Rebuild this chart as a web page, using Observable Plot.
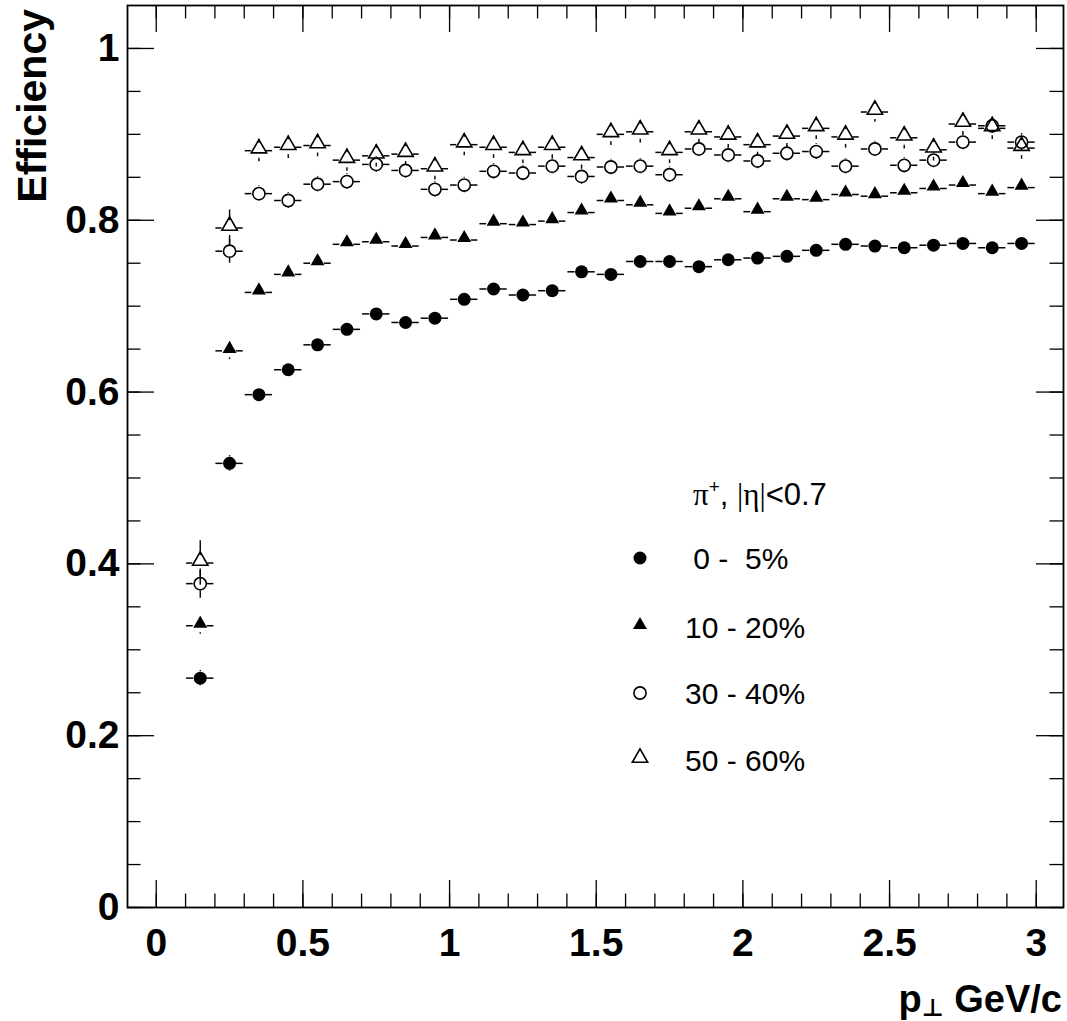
<!DOCTYPE html>
<html>
<head>
<meta charset="utf-8">
<script src="https://cdn.jsdelivr.net/npm/d3@7"></script>
<script src="https://cdn.jsdelivr.net/npm/@observablehq/plot@0.6"></script>
<style>
  html, body { margin: 0; padding: 0; background: white; }
  svg { display: block; }
</style>
</head>
<body>
<div id="chart"></div>
<script>
// ---- data ----
const pt = [0.15, 0.25, 0.35, 0.45, 0.55, 0.65, 0.75, 0.85, 0.95, 1.05,
            1.15, 1.25, 1.35, 1.45, 1.55, 1.65, 1.75, 1.85, 1.95, 2.05,
            2.15, 2.25, 2.35, 2.45, 2.55, 2.65, 2.75, 2.85, 2.95];
const binHalfWidth = 0.05;

const eff_0_5 = [0.267, 0.517, 0.597, 0.626, 0.655, 0.673, 0.691, 0.681, 0.686, 0.708,
                 0.720, 0.713, 0.718, 0.740, 0.737, 0.752, 0.752, 0.746, 0.754, 0.756,
                 0.758, 0.765, 0.772, 0.770, 0.768, 0.771, 0.773, 0.768, 0.773];
const err_0_5 = [0.009, 0.009, 0.006, 0.006, 0.005, 0.005, 0.005, 0.005, 0.005, 0.005,
                 0.005, 0.005, 0.005, 0.005, 0.005, 0.005, 0.005, 0.005, 0.005, 0.005,
                 0.005, 0.005, 0.005, 0.005, 0.005, 0.005, 0.005, 0.005, 0.005];

const eff_10_20 = [0.328, 0.648, 0.716, 0.737, 0.750, 0.772, 0.775, 0.770, 0.780, 0.777,
                   0.796, 0.795, 0.799, 0.809, 0.823, 0.818, 0.808, 0.814, 0.825, 0.810,
                   0.825, 0.824, 0.830, 0.828, 0.832, 0.837, 0.841, 0.831, 0.838];
const err_10_20 = [0.010, 0.010, 0.006, 0.006, 0.006, 0.006, 0.006, 0.006, 0.006, 0.006,
                   0.006, 0.006, 0.006, 0.006, 0.006, 0.006, 0.006, 0.006, 0.006, 0.006,
                   0.006, 0.006, 0.006, 0.006, 0.006, 0.006, 0.006, 0.006, 0.006];

const eff_30_40 = [0.377, 0.764, 0.831, 0.823, 0.842, 0.845, 0.865, 0.858, 0.836, 0.841,
                   0.857, 0.855, 0.863, 0.851, 0.862, 0.863, 0.853, 0.883, 0.876, 0.869,
                   0.878, 0.880, 0.863, 0.883, 0.864, 0.870, 0.891, 0.910, 0.891];
const err_30_40 = [0.017, 0.014, 0.009, 0.009, 0.009, 0.009, 0.009, 0.009, 0.009, 0.009,
                   0.009, 0.009, 0.009, 0.009, 0.009, 0.009, 0.009, 0.009, 0.009, 0.009,
                   0.009, 0.009, 0.009, 0.009, 0.009, 0.009, 0.009, 0.009, 0.010];

const eff_50_60 = [0.401, 0.791, 0.881, 0.885, 0.887, 0.870, 0.875, 0.877, 0.860, 0.888,
                   0.885, 0.879, 0.885, 0.873, 0.900, 0.903, 0.879, 0.903, 0.897, 0.888,
                   0.898, 0.907, 0.897, 0.926, 0.896, 0.882, 0.912, 0.907, 0.884];
const err_50_60 = [0.026, 0.021, 0.013, 0.013, 0.013, 0.013, 0.013, 0.013, 0.013, 0.013,
                   0.013, 0.013, 0.013, 0.013, 0.013, 0.013, 0.013, 0.013, 0.013, 0.013,
                   0.013, 0.013, 0.013, 0.012, 0.013, 0.013, 0.013, 0.013, 0.013];

const seriesNames = [" 0 -  5%", "10 - 20%", "30 - 40%", "50 - 60%"];
const legendHeader = ["\u03C0", "+", ", ", "|\u03B7|", "<0.7"];
const xMajorTicks = [0, 0.5, 1, 1.5, 2, 2.5, 3];
const xTickLabels = ["0", "0.5", "1", "1.5", "2", "2.5", "3"];
const yMajorTicks = [0, 0.2, 0.4, 0.6, 0.8, 1];
const yTickLabels = ["0", "0.2", "0.4", "0.6", "0.8", "1"];
const xMinorTicks = d3.range(0, 31).map(i => i / 10);
const yMinorTicks = d3.range(0, 21).map(i => i / 20);

// ---- layout ----
const W = 1067, H = 1021;
const mL = 127, mR = 4, mT = 5, mB = 114;
const xDom = [-0.098, 3.093], yDom = [0, 1.05];
const pxX = (W - mL - mR) / (xDom[1] - xDom[0]);
const pxY = (H - mT - mB) / (yDom[1] - yDom[0]);

const styles = [
  {symbol: "circle",   fill: "black", stroke: "none",  r: 6.5, sw: 0,   gap: 6.5, dy: 0},
  {symbol: "triangle", fill: "black", stroke: "none",  r: 5.2, sw: 0,   gap: 7, dy: -2.0},
  {symbol: "circle",   fill: "none",  stroke: "black", r: 6.1, sw: 1.6, gap: 7, dy: 0},
  {symbol: "triangle", fill: "none",  stroke: "black", r: 5.7, sw: 1.6, gap: 7.5, dy: -2.2}
];
const effs = [eff_0_5, eff_10_20, eff_30_40, eff_50_60];
const errs = [err_0_5, err_10_20, err_30_40, err_50_60];

const rows = [];
effs.forEach((vals, s) => pt.forEach((x, i) => rows.push({s, x, v: vals[i], e: errs[s][i]})));

const endGap = 1 / pxX;
const hLeft = rows.map(d => ({y: d.v, x1: d.x - binHalfWidth + endGap, x2: d.x - styles[d.s].gap / pxX}));
const hRight = rows.map(d => ({y: d.v, x1: d.x + styles[d.s].gap / pxX, x2: d.x + binHalfWidth - endGap}));
const vBars = [];
rows.forEach(d => {
  const g = styles[d.s].gap / pxY;
  if (d.e > g) {
    vBars.push({x: d.x, y1: d.v + g, y2: d.v + d.e});
    vBars.push({x: d.x, y1: d.v - g, y2: d.v - d.e});
  }
});

const majX = 27 / pxY, minX = 13.5 / pxY;
const majY = 27 / pxX, minY = 13.5 / pxX;

const dotMarks = styles.map((st, s) =>
  Plot.dot(rows.filter(d => d.s === s), {
    x: "x", y: "v", symbol: () => st.symbol, r: st.r,
    fill: st.fill, stroke: st.stroke, strokeWidth: st.sw, dy: st.dy
  })
);

const chart = Plot.plot({
  width: W, height: H,
  marginLeft: mL, marginRight: mR, marginTop: mT, marginBottom: mB,
  x: {domain: xDom, label: null},
  y: {domain: yDom, label: null},
  symbol: {type: "identity"},
  style: {fontFamily: "'Liberation Sans', Arial, Helvetica, sans-serif", fontWeight: "bold", fontSize: "39px", background: "white", color: "black", overflow: "visible"},
  marks: [
    // tick marks (inside the frame, ROOT style)
    Plot.ruleX(xMinorTicks, {x: d => d, y1: yDom[0], y2: yDom[0] + minX, strokeWidth: 1.3}),
    Plot.ruleX(xMajorTicks, {x: d => d, y1: yDom[0], y2: yDom[0] + majX, strokeWidth: 1.3}),
    Plot.ruleX(xMinorTicks, {x: d => d, y1: yDom[1], y2: yDom[1] - minX, strokeWidth: 1.3}),
    Plot.ruleX(xMajorTicks, {x: d => d, y1: yDom[1], y2: yDom[1] - majX, strokeWidth: 1.3}),
    Plot.ruleY(yMinorTicks, {y: d => d, x1: xDom[0], x2: xDom[0] + minY, strokeWidth: 1.3}),
    Plot.ruleY(yMajorTicks, {y: d => d, x1: xDom[0], x2: xDom[0] + majY, strokeWidth: 1.3}),
    Plot.ruleY(yMinorTicks, {y: d => d, x1: xDom[1], x2: xDom[1] - minY, strokeWidth: 1.3}),
    Plot.ruleY(yMajorTicks, {y: d => d, x1: xDom[1], x2: xDom[1] - majY, strokeWidth: 1.3}),
    Plot.axisX(xMajorTicks, {tickSize: 0, tickPadding: 21, tickFormat: (d, i) => xTickLabels[i], fontWeight: "bold"}),
    Plot.axisY(yMajorTicks, {tickSize: 0, tickPadding: 8, tickFormat: (d, i) => yTickLabels[i], fontWeight: "bold"}),
    Plot.frame({stroke: "black", strokeWidth: 1.8}),
    // error bars
    Plot.ruleY(hLeft, {y: "y", x1: "x1", x2: "x2", strokeWidth: 1.5}),
    Plot.ruleY(hRight, {y: "y", x1: "x1", x2: "x2", strokeWidth: 1.5}),
    Plot.ruleX(vBars, {x: "x", y1: "y1", y2: "y2", strokeWidth: 1.4}),
    ...dotMarks
  ]
});

document.getElementById("chart").appendChild(chart);
const svg = d3.select(chart);

// axis titles
svg.append("text")
  .attr("transform", "translate(46,9) rotate(-90)")
  .attr("text-anchor", "end")
  .style("font", "bold 41px 'Liberation Sans', Arial, sans-serif")
  .text("Efficiency");

const xt = svg.append("text")
  .attr("x", 1062).attr("y", 1012)
  .attr("text-anchor", "end")
  .style("font", "bold 38px 'Liberation Sans', Arial, sans-serif");
xt.append("tspan").text("p");
xt.append("tspan").attr("dy", 4).style("font-size", "24px").style("font-family", "'DejaVu Sans', sans-serif").text("\u22A5");
xt.append("tspan").attr("dy", -4).text(" GeV/c");

// legend
const lg = svg.append("g")
  .attr("text-anchor", "start")
  .style("font-family", "'Liberation Sans', Arial, sans-serif")
  .style("font-weight", "normal");
const hd = lg.append("text").attr("x", 693).attr("y", 505).attr("text-anchor", "start").style("font-size", "31px");
hd.append("tspan").style("font-family", "'Liberation Serif', serif").text(legendHeader[0]);
hd.append("tspan").attr("dy", -12).style("font-size", "19px").text(legendHeader[1]);
hd.append("tspan").attr("dy", 12).text(legendHeader[2]);
hd.append("tspan").style("font-family", "'Liberation Serif', serif").text(legendHeader[3]);
hd.append("tspan").text(legendHeader[4]);

const rowY = [558, 627, 693, 760];
seriesNames.forEach((name, s) => {
  const st = styles[s];
  lg.append("path")
    .attr("transform", `translate(640,${rowY[s] + st.dy})`)
    .attr("d", d3.symbol(st.symbol === "circle" ? d3.symbolCircle : d3.symbolTriangle, Math.PI * st.r * st.r)())
    .attr("fill", st.fill === "none" ? "none" : "black")
    .attr("stroke", st.stroke === "none" ? "none" : "black")
    .attr("stroke-width", st.sw);
  lg.append("text")
    .attr("x", 685).attr("y", rowY[s]).attr("dy", "0.36em")
    .attr("text-anchor", "start")
    .attr("xml:space", "preserve").style("white-space", "pre")
    .style("font-size", "30px")
    .text(name);
});
</script>
</body>
</html>
